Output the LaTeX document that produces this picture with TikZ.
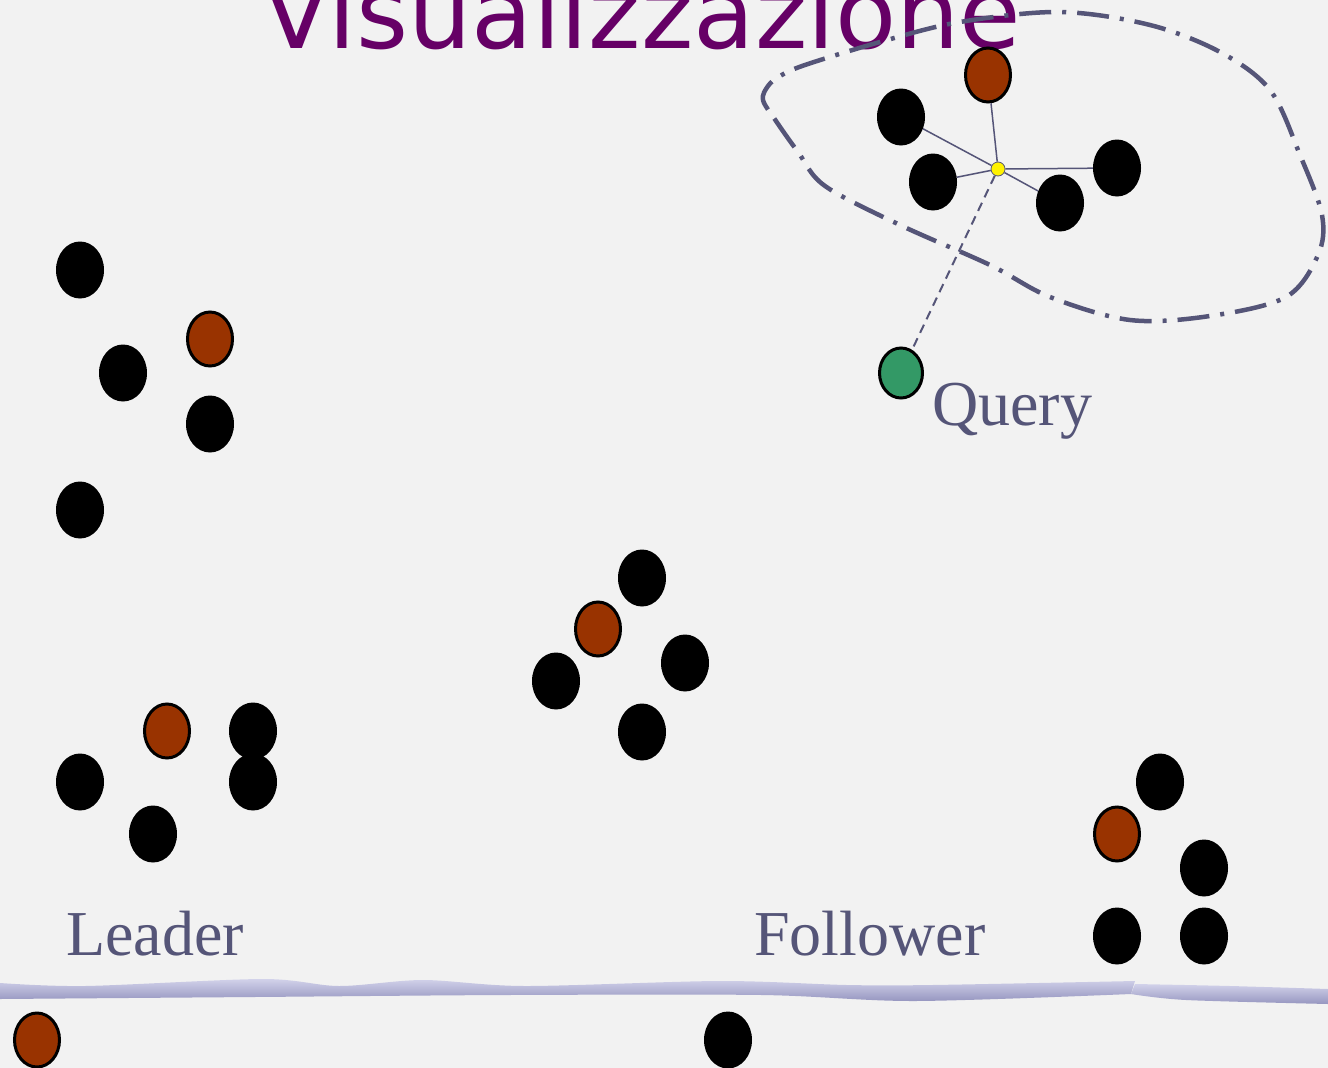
\documentclass[tikz,border=0pt]{standalone}
\usepackage{tikz}
\usepackage{fontspec}
\usetikzlibrary{shapes.geometric}
\newfontfamily\titlefont{DejaVu Sans}
\newfontfamily\labelfont{Liberation Serif}
\definecolor{slidebg}{RGB}{242,242,242}
\definecolor{titlepurple}{RGB}{102,0,102}
\definecolor{slate}{RGB}{85,85,120}
\definecolor{rust}{RGB}{153,51,0}
\definecolor{jade}{RGB}{51,153,102}

\begin{document}
\begin{tikzpicture}[x=1pt,y=1pt,
    dot/.style={ellipse, fill=black, minimum width=48, minimum height=57},
    rdot/.style={dot, draw=black, line width=3pt, fill=rust, minimum width=45, minimum height=54},
    gdot/.style={dot, draw=black, line width=3pt, fill=jade, minimum width=43, minimum height=50},
    hubdot/.style={circle, draw=slate, line width=0.8pt, fill=yellow, minimum size=14},
    lbl/.style={anchor=base west, text=slate, font=\labelfont\fontsize{64}{64}\selectfont},
    spoke/.style={slate, line width=1.5pt},
    rim/.style={slate, line width=4.5pt, dash pattern=on 32pt off 11pt on 4pt off 11pt}]
    \tikzstyle{every node}+=[inner sep=0pt]
    \useasboundingbox (0,0) rectangle (1328,-1068);
    \clip (0,0) rectangle (1328,-1068);
    \fill [slidebg] (0,0) rectangle (1328,-1068);

    \node [anchor=base west, text=titlepurple, font=\titlefont\fontsize{100}{100}\selectfont] (title) at (262,-48) {Visualizzazione};

    \draw [rim] plot [smooth cycle, tension=0.55] coordinates {(763,-100) (776,-121) (798,-152) (825,-186) (900,-225) (990,-265) (1050,-297) (1130,-320) (1210,-316) (1286,-297) (1318,-255) (1322,-215) (1300,-155) (1270,-90) (1220,-52) (1150,-25) (1060,-12) (960,-22) (880,-42) (805,-65) (780,-76) (768,-86)};

    \node [rdot] (t1) at (988,-75) {};
    \node [dot] (t2) at (901,-117) {};
    \node [dot] (t3) at (933,-182) {};
    \node [dot] (t4) at (1060,-203) {};
    \node [dot] (t5) at (1117,-168) {};
    \node [hubdot] (hub) at (998,-169) {};
    \node [gdot] (query) at (901,-373) {};
    \draw [spoke] (hub) -- (t1);
    \draw [spoke] (hub) -- (t2);
    \draw [spoke] (hub) -- (t3);
    \draw [spoke] (hub) -- (t4);
    \draw [spoke] (hub) -- (t5);
    \draw [slate, line width=2pt, dash pattern=on 9pt off 6pt] (hub) -- (query);
    \node [lbl] (qlabel) at (932,-425) {Query};

    \node [dot] (a1) at (80,-270) {};
    \node [rdot] (a2) at (210,-339) {};
    \node [dot] (a3) at (123,-373) {};
    \node [dot] (a4) at (210,-424) {};
    \node [dot] (a5) at (80,-510) {};

    \node [dot] (m1) at (642,-578) {};
    \node [rdot] (m2) at (598,-629) {};
    \node [dot] (m3) at (685,-663) {};
    \node [dot] (m4) at (556,-681) {};
    \node [dot] (m5) at (642,-732) {};

    \node [rdot] (b1) at (167,-731) {};
    \node [dot] (b2) at (253,-731) {};
    \node [dot] (b3) at (80,-782) {};
    \node [dot] (b4) at (253,-782) {};
    \node [dot] (b5) at (153,-834) {};

    \node [dot] (r1) at (1160,-782) {};
    \node [rdot] (r2) at (1117,-834) {};
    \node [dot] (r3) at (1204,-868) {};
    \node [dot] (r4) at (1117,-936) {};
    \node [dot] (r5) at (1204,-936) {};

    \node [lbl] (llabel) at (66,-955) {Leader};
    \node [lbl] (flabel) at (754,-955) {Follower};

    \shade [top color={rgb,255:red,210;green,210;blue,234}, bottom color={rgb,255:red,150;green,150;blue,192}]
        plot [smooth] coordinates {(0,-983) (85,-986) (263,-979) (339,-986) (423,-980) (525,-986) (720,-981) (847,-985) (932,-985) (1135,-981)}
        -- plot [smooth] coordinates {(1131,-994) (915,-1001) (762,-995) (508,-995) (254,-997) (0,-999)} -- cycle;
    \shade [top color={rgb,255:red,210;green,210;blue,234}, bottom color={rgb,255:red,150;green,150;blue,192}]
        plot [smooth] coordinates {(1135,-984) (1230,-986) (1328,-989)}
        -- plot [smooth] coordinates {(1328,-1004) (1186,-1000) (1131,-994)} -- cycle;

    \node [rdot] (s1) at (37,-1040) {};
    \node [dot] (s2) at (728,-1040) {};
\end{tikzpicture}
\end{document}
